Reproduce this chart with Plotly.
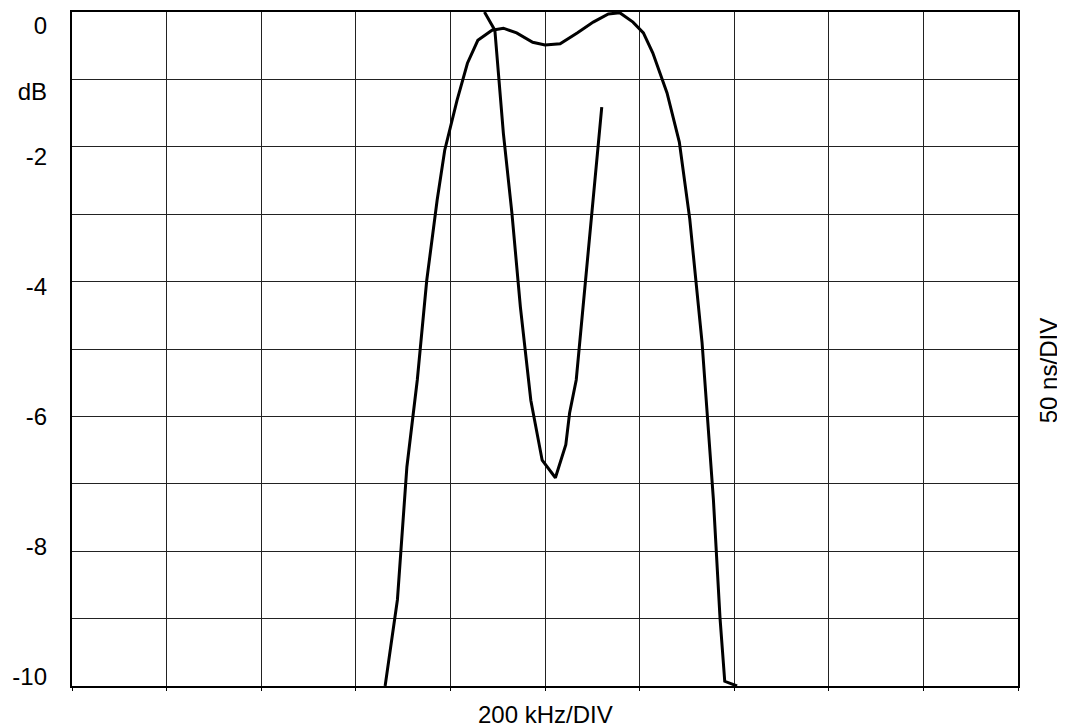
import plotly.graph_objects as go

# Frequency axis in divisions (200 kHz/DIV), amplitude in dB
amp_x = [3.31, 3.44, 3.54, 3.65, 3.75, 3.81, 3.86, 3.94, 4.07, 4.18, 4.29, 4.44, 4.56,
         4.70, 4.87, 5.00, 5.16, 5.34, 5.51, 5.67, 5.79, 5.93, 6.04, 6.14, 6.29, 6.42,
         6.53, 6.66, 6.78, 6.85, 6.90, 7.03]
amp_y = [-10.0, -8.72, -6.75, -5.46, -3.98, -3.34, -2.79, -2.05, -1.31, -0.76, -0.42, -0.27, -0.24,
         -0.31, -0.45, -0.49, -0.47, -0.31, -0.15, -0.03, -0.01, -0.15, -0.31, -0.61, -1.20, -1.93,
         -3.07, -4.90, -7.23, -8.99, -9.93, -10.0]

# Group delay curve (50 ns/DIV), in divisions
delay_x = [4.36, 4.47, 4.56, 4.65, 4.74, 4.82, 4.85, 4.97, 5.11, 5.22, 5.26, 5.33, 5.51, 5.60]
delay_y = [0.0, -0.27, -1.80, -2.98, -4.38, -5.46, -5.76, -6.65, -6.91, -6.42, -5.95, -5.46, -2.79, -1.41]

ytick_vals = [0, -1, -2, -3, -4, -5, -6, -7, -8, -9, -10]
ytick_text = ["0", "dB", "-2", "", "-4", "", "-6", "", "-8", "", "-10"]
xtick_vals = [0, 1, 2, 3, 4, 5, 6, 7, 8, 9, 10]

x_title = "200 kHz/DIV"
y2_title = "50 ns/DIV"

FONT = "Arial, Liberation Sans, sans-serif"

fig = go.Figure()
fig.add_trace(go.Scatter(x=amp_x, y=amp_y, mode="lines",
                         line=dict(color="black", width=3), showlegend=False))
fig.add_trace(go.Scatter(x=delay_x, y=delay_y, mode="lines",
                         line=dict(color="black", width=3), showlegend=False))
# empty trace so the label axis is drawn
fig.add_trace(go.Scatter(x=[None], y=[None], yaxis="y2", mode="lines",
                         showlegend=False, hoverinfo="skip"))

fig.update_layout(
    width=1065, height=728,
    margin=dict(l=64, r=55, t=4, b=50, autoexpand=False),
    paper_bgcolor="white", plot_bgcolor="white",
    font=dict(family=FONT, size=24, color="black"),
    xaxis=dict(range=[0, 10], tickvals=xtick_vals, showticklabels=False,
               showgrid=True, gridcolor="#222", gridwidth=1,
               showline=True, linecolor="black", linewidth=1.5, mirror=True,
               ticks="outside", ticklen=3, tickcolor="black", zeroline=False,
               automargin=False),
    yaxis=dict(range=[-10.0001, 0.0001], tickvals=ytick_vals, showticklabels=False,
               showgrid=True, gridcolor="#222", gridwidth=1,
               showline=True, linecolor="black", linewidth=1.5, mirror=True,
               ticks="", zeroline=False, automargin=False),
    yaxis2=dict(overlaying="y", side="left", range=[-10.138, 0.215],
                tickvals=ytick_vals, ticktext=ytick_text,
                showgrid=False, showline=False, zeroline=False, ticks="",
                ticklabelstandoff=24, ticklabeloverflow="allow",
                automargin=False, tickfont=dict(size=24)),
    annotations=[
        dict(text=x_title, xref="paper", yref="paper", x=0.5, y=0,
             xanchor="center", yanchor="top", yshift=-13, showarrow=False,
             font=dict(size=24)),
        dict(text=y2_title, xref="paper", yref="paper", x=1, y=0.467,
             xanchor="center", yanchor="middle", xshift=30, textangle=-90,
             showarrow=False, font=dict(size=24)),
    ],
)

fig.write_html("out.html")
